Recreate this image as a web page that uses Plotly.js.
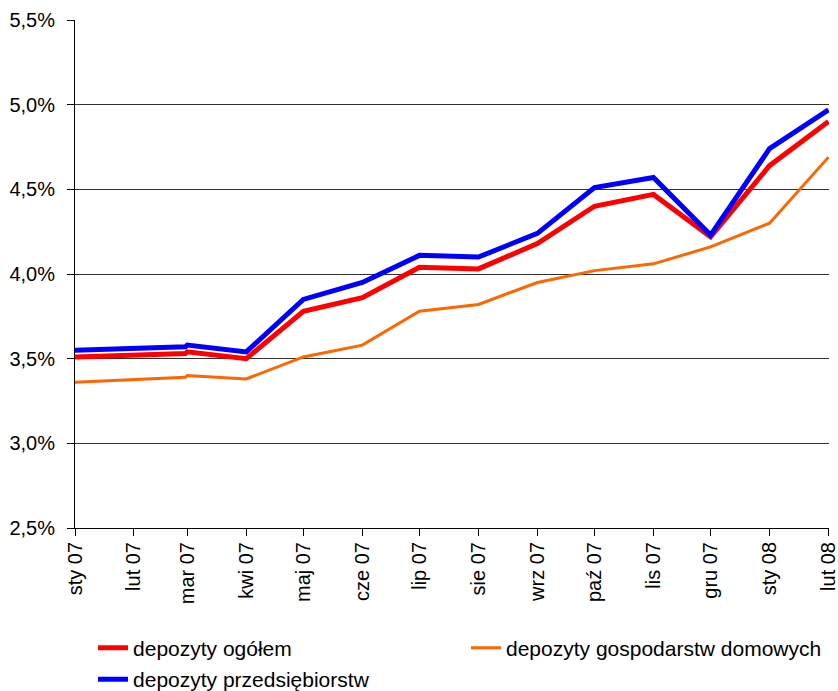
<!DOCTYPE html>
<html>
<head>
<meta charset="utf-8">
<script src="https://cdn.plot.ly/plotly-3.0.1.min.js"></script>
<style>html,body{margin:0;padding:0;background:#fff;}#chart{width:838px;height:691px;}</style>
</head>
<body>
<div id="chart"></div>
<script>
const dates = ['2007-01-01','2007-02-28','2007-03-01','2007-04-01','2007-05-01','2007-06-01','2007-07-01','2007-08-01','2007-09-01','2007-10-01','2007-11-01','2007-12-01','2008-01-01','2008-02-01'];
const ogolem = [3.51, 3.53, 3.54, 3.50, 3.78, 3.86, 4.04, 4.03, 4.18, 4.40, 4.47, 4.22, 4.64, 4.90];
const gospodarstwa = [3.36, 3.39, 3.40, 3.38, 3.51, 3.58, 3.78, 3.82, 3.95, 4.02, 4.06, 4.16, 4.30, 4.69];
const przedsiebiorstwa = [3.55, 3.57, 3.58, 3.54, 3.85, 3.95, 4.11, 4.10, 4.24, 4.51, 4.57, 4.23, 4.74, 4.97];
const tickDates = ['2007-01-01','2007-02-01','2007-03-01','2007-04-01','2007-05-01','2007-06-01','2007-07-01','2007-08-01','2007-09-01','2007-10-01','2007-11-01','2007-12-01','2008-01-01','2008-02-01'];
const tickLabels = ['sty 07','lut 07','mar 07','kwi 07','maj 07','cze 07','lip 07','sie 07','wrz 07','paź 07','lis 07','gru 07','sty 08','lut 08'];
const names = ['depozyty ogółem','depozyty gospodarstw domowych','depozyty przedsiębiorstw'];

const font = 'Liberation Sans, Arial, sans-serif';
const traces = [
  {x: dates, y: ogolem, name: names[0], type: 'scatter', mode: 'lines', line: {color: '#FF0000', width: 5}, legend: 'legend'},
  {x: dates, y: gospodarstwa, name: names[1], type: 'scatter', mode: 'lines', line: {color: '#FF6600', width: 3}, legend: 'legend2'},
  {x: dates, y: przedsiebiorstwa, name: names[2], type: 'scatter', mode: 'lines', line: {color: '#0000FF', width: 5}, legend: 'legend3'}
];
const order = [traces[1], traces[0], traces[2]];

const legFont = {family: font, size: 21, color: '#000'};
const legBase = {xref: 'container', yref: 'container', xanchor: 'left', yanchor: 'middle', font: legFont, bgcolor: 'rgba(0,0,0,0)'};
const layout = {
  width: 838, height: 691,
  margin: {l: 75, r: 9, t: 20, b: 163, autoexpand: false},
  paper_bgcolor: '#fff', plot_bgcolor: '#fff',
  separators: ', ',
  font: {family: font, size: 20, color: '#000'},
  xaxis: {
    type: 'date', range: ['2007-01-01','2008-02-01 06:00'],
    tickmode: 'array', tickvals: tickDates, ticktext: tickLabels,
    tickangle: -90, ticks: 'outside', ticklen: 7, tickcolor: '#000',
    showline: true, linecolor: '#000', linewidth: 1,
    showgrid: false, zeroline: false, automargin: false,
    ticklabeloverflow: 'allow', ticklabelstandoff: -2,
    tickfont: {family: font, size: 20, color: '#000'}
  },
  yaxis: {
    range: [2.5, 5.5], dtick: 0.5, tick0: 2.5,
    tickformat: '.1f', ticksuffix: '%',
    ticks: 'outside', ticklen: 7, tickcolor: '#000',
    showline: true, linecolor: '#000', linewidth: 1,
    showgrid: true, gridcolor: '#303030', gridwidth: 1,
    zeroline: false, ticklabelstandoff: 8, automargin: false,
    tickfont: {family: font, size: 20, color: '#000'}
  },
  showlegend: true,
  legend: Object.assign({x: 0.1110, y: 0.0622}, legBase),
  legend2: Object.assign({x: 0.5561, y: 0.0622}, legBase),
  legend3: Object.assign({x: 0.1110, y: 0.0165}, legBase)
};
Plotly.newPlot('chart', order, layout, {displayModeBar: false, staticPlot: true});
</script>
</body>
</html>
